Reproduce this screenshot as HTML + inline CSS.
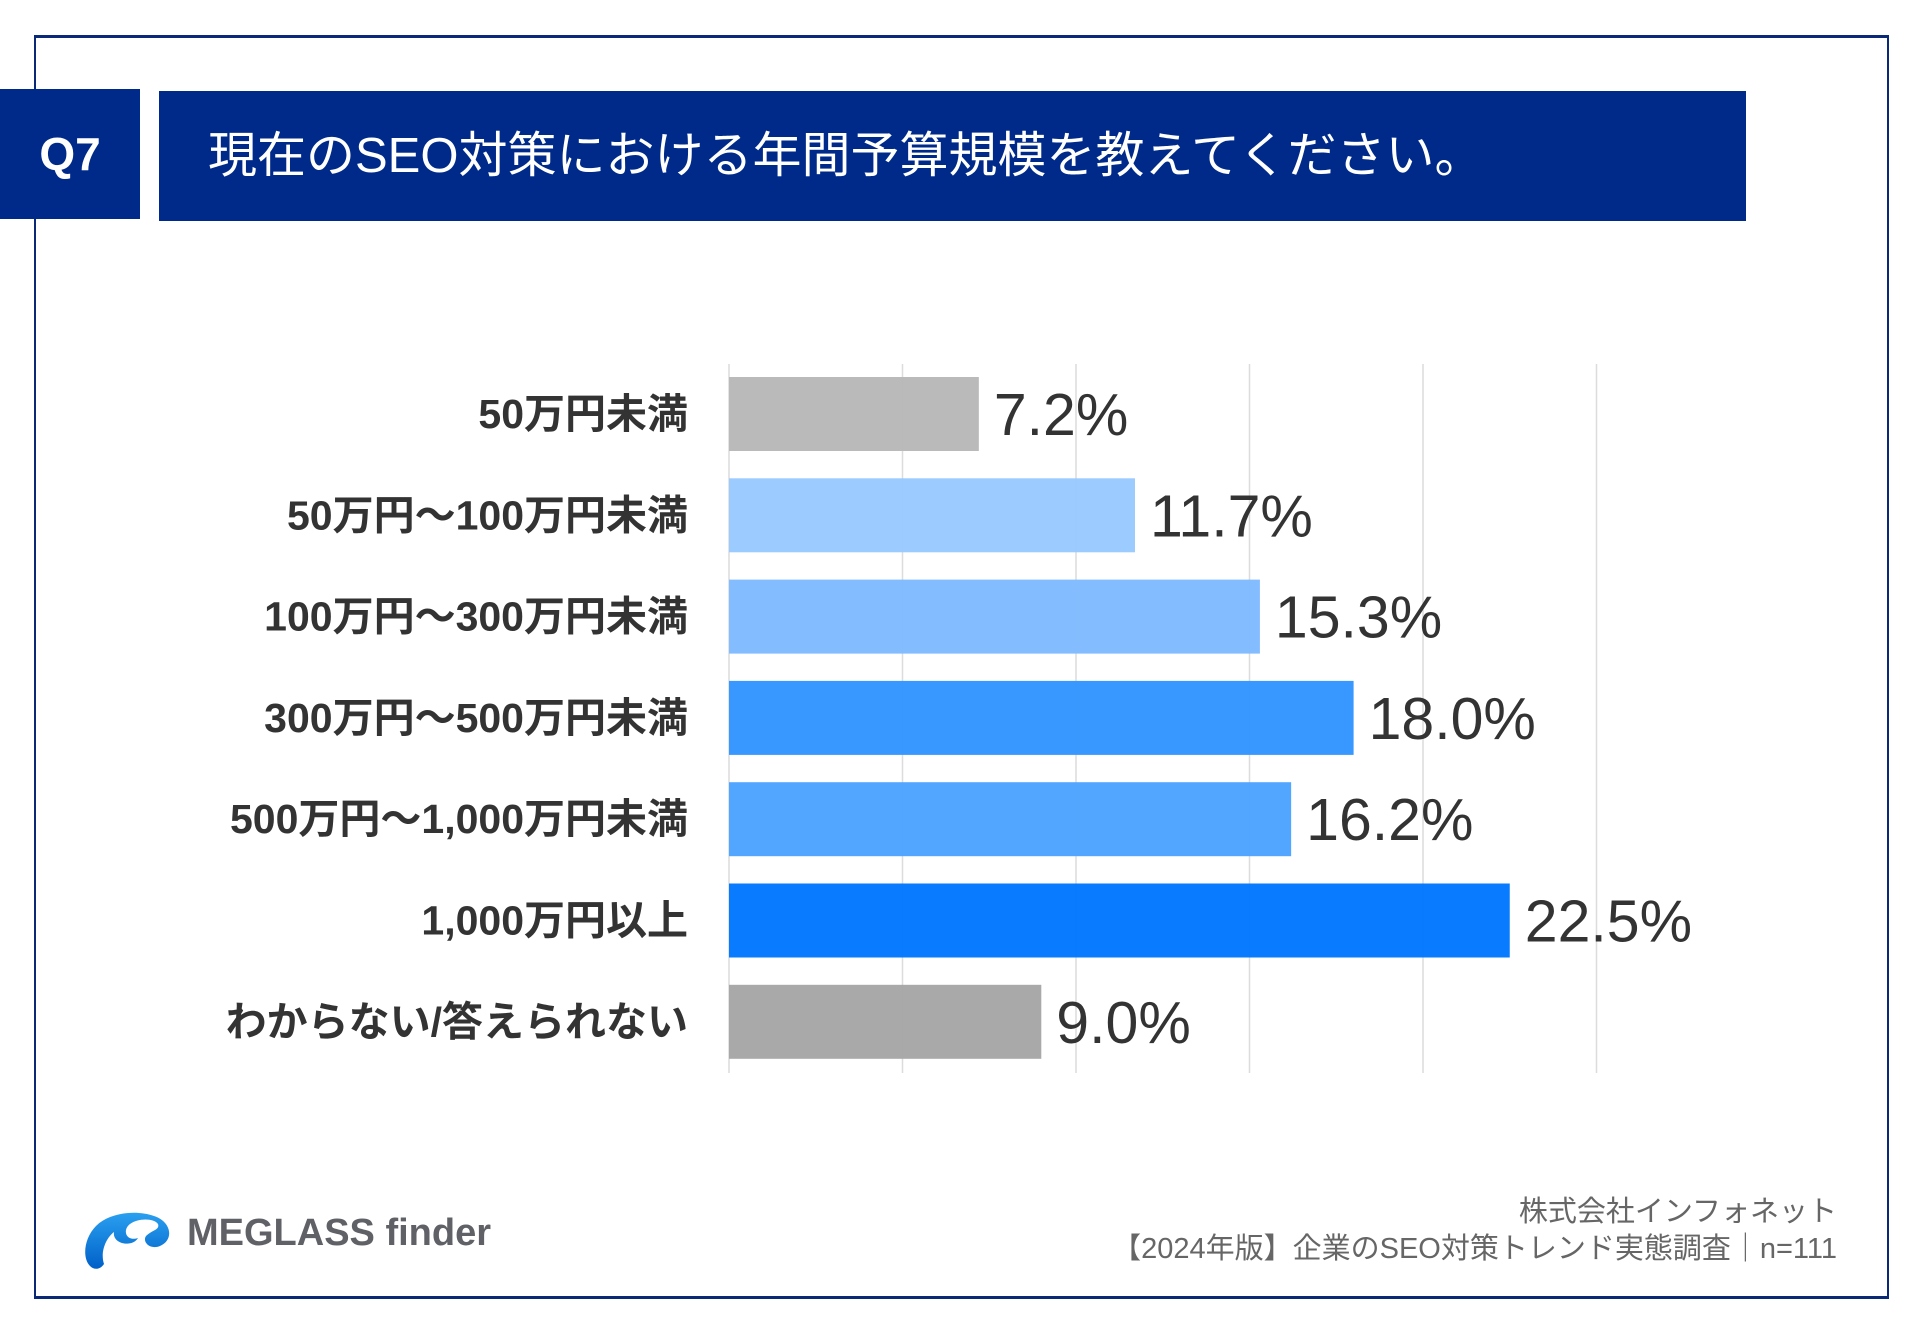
<!DOCTYPE html>
<html><head><meta charset="utf-8"><style>
html,body{margin:0;padding:0;background:#fff;}
body{width:1920px;height:1329px;position:relative;overflow:hidden;font-family:"Liberation Sans","Noto Sans CJK JP",sans-serif;}
.abs{position:absolute;}
</style></head><body>
<div class="abs" style="left:34px;top:35px;width:1851px;height:1258px;border:2px solid #0a2a78;border-top-width:3px;border-bottom-width:3px;"></div>
<div class="abs" style="left:0;top:89px;width:140px;height:130px;background:#002a8a;color:#fff;font-size:46px;line-height:130px;text-align:center;font-weight:bold;">Q7</div>
<div class="abs" style="left:159px;top:91px;width:1587px;height:130px;background:#002a8a;color:#fff;font-family:'Liberation Sans','Noto Sans CJK JP',sans-serif;font-size:49px;line-height:130px;padding-left:49px;box-sizing:border-box;white-space:nowrap;">現在のSEO対策における年間予算規模を教えてください。</div>

<svg class="abs" style="left:0;top:0" width="1920" height="1329" id="chart"></svg>

<svg class="abs" style="left:82px;top:1208px" width="92" height="62" viewBox="0 0 92 62">
<defs><linearGradient id="lg" x1="0" y1="0" x2="0" y2="1"><stop offset="0" stop-color="#2aa0f0"/><stop offset="1" stop-color="#0060c8"/></linearGradient></defs>
<path d="M8 58 C0 50 2 30 14 18 C28 4 55 2 72 8 C90 14 92 32 78 38 C68 42 60 34 64 28 C70 22 78 22 76 16 C72 10 56 10 48 16 C40 22 44 34 56 30 C50 40 30 36 32 24 C24 30 18 44 22 56 C18 62 12 62 8 58 Z" fill="url(#lg)"/>
</svg>
<div class="abs" style="left:187px;top:1212px;font-size:38px;font-weight:bold;color:#5f6166;font-family:'Liberation Sans',sans-serif;">MEGLASS finder</div>
<div class="abs" style="right:83px;top:1188px;font-size:29px;color:#666;font-family:'Liberation Sans','Noto Sans CJK JP',sans-serif;">株式会社インフォネット</div>
<div class="abs" style="right:83px;top:1225px;font-size:29px;color:#666;font-family:'Liberation Sans','Noto Sans CJK JP',sans-serif;">【2024年版】企業のSEO対策トレンド実態調査｜n=111</div>

<script>
const categories = ["50万円未満","50万円～100万円未満","100万円～300万円未満","300万円～500万円未満","500万円～1,000万円未満","1,000万円以上","わからない/答えられない"];
const values = [7.2, 11.7, 15.3, 18.0, 16.2, 22.5, 9.0];
const valueLabels = ["7.2%","11.7%","15.3%","18.0%","16.2%","22.5%","9.0%"];
const barColors = ["#b8b8b8","#99c9ff","#80bbff","#3395ff","#4da3ff","#0077ff","#a6a6a6"];
const gridTicks = [0,5,10,15,20,25];

const NS = "http://www.w3.org/2000/svg";
const svg = document.getElementById('chart');
const x0 = 729, pxPer = 34.7;
const xScale = v => x0 + v * pxPer;
const top0 = 377, pitch = 101.3, barH = 74;
const yScale = i => top0 + i * pitch;

function mk(tag, attrs){const e=document.createElementNS(NS,tag);for(const k in attrs)e.setAttribute(k,attrs[k]);return e;}

gridTicks.forEach(t=>{
  const l = mk('line',{x1:xScale(t),x2:xScale(t),y1:364,y2:1073,stroke:'#dcdcdc','stroke-width':1.5});
  
  
  svg.appendChild(l);
});

categories.forEach((c,i)=>{
  const y = yScale(i);
  const r = mk('rect',{x:x0,y:y,width:values[i]*pxPer,height:barH,fill:barColors[i],'fill-opacity':0.97});
  
  
  svg.appendChild(r);
  const lab = mk('text',{x:688,y:y+barH/2+14,'text-anchor':'end','font-size':41,'font-weight':'bold',fill:'#333','font-family':'"Liberation Sans","Noto Sans CJK JP",sans-serif'});
  lab.textContent = c;
  
  
  svg.appendChild(lab);
  const v = mk('text',{x:xScale(values[i])+15,y:y+barH/2+21,'font-size':59,fill:'#333','font-family':'"Liberation Sans",sans-serif'});
  v.textContent = valueLabels[i];
  
  
  svg.appendChild(v);
});
</script>
</body></html>
